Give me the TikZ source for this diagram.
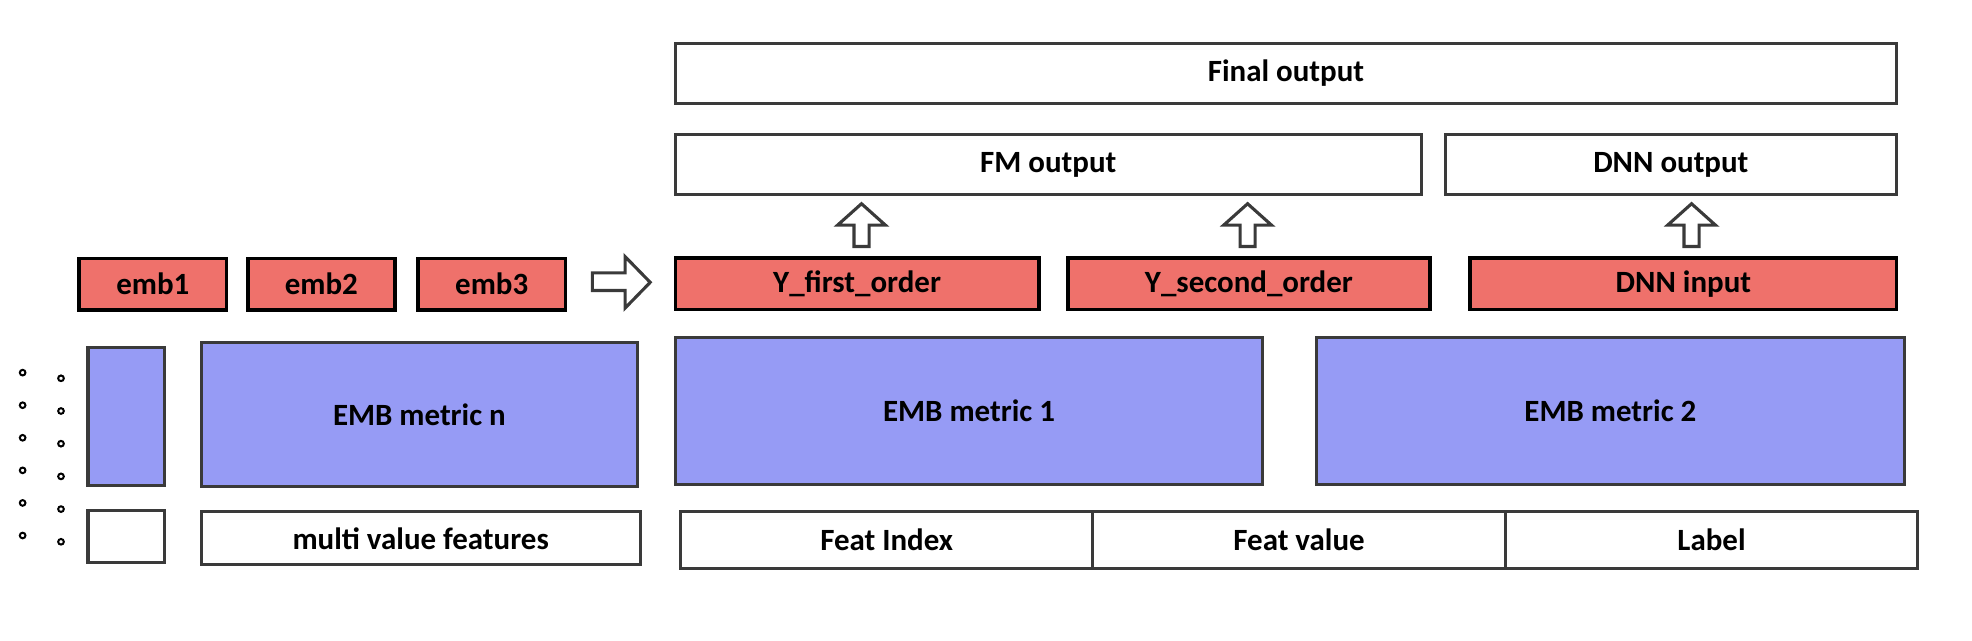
\documentclass[tikz,border=0pt]{standalone}
\usepackage{fontspec}
\setmainfont{Carlito}
\usetikzlibrary{positioning}

\definecolor{embred}{RGB}{239,113,107}
\definecolor{embblue}{RGB}{150,155,245}
\definecolor{edgegray}{RGB}{58,58,58}

\tikzset{
  box/.style={draw=edgegray, line width=1.4pt, fill=white, inner sep=0pt,
    font=\fontsize{14}{16}\selectfont\bfseries},
  redbox/.style={box, draw=black, line width=1.6pt, fill=embred, minimum height=0.82cm},
  bluebox/.style={box, fill=embblue},
  cellbox/.style={box, outer sep=0pt, minimum width=6.56cm, minimum height=0.9cm},
  hollow/.style={draw=edgegray, line width=1.4pt, fill=white, line join=miter},
  dotring/.style={draw=black, line width=0.9pt, fill=white}
}

\begin{document}
\begin{tikzpicture}[x=0.02cm, y=-0.02cm]
    \useasboundingbox (0,0) rectangle (1568,509);

% outputs
    \node[box, minimum width=19.42cm, minimum height=0.96cm] (final) at (1022.5,58.5) {Final output};
    \node[box, minimum width=11.86cm, minimum height=0.96cm] (fmout) at (833.5,131) {FM output};
    \node[box, minimum width=7.18cm, minimum height=0.96cm] (dnnout) at (1328.5,131) {DNN output};

% embedding vectors
      \foreach \x/\name in {121.5/emb1, 255.5/emb2, 391/emb3}
      {
        \node[redbox, minimum width=2.34cm] (\name) at (\x,226) {\name};
      };
    \node[redbox, minimum width=5.78cm] (yfirst) at (681.5,225.5) {Y\_first\_order};
    \node[redbox, minimum width=5.76cm] (ysecond) at (993,225.5) {Y\_second\_order};
    \node[redbox, minimum width=6.78cm] (dnnin) at (1338.5,225.5) {DNN input};

% embedding matrices
    \node[bluebox, minimum width=1.22cm, minimum height=2.2cm] (embsmall) at (100.5,331) {};
    \node[bluebox, minimum width=6.94cm, minimum height=2.3cm] (embn) at (333.5,329.5) {EMB metric n};
    \node[bluebox, minimum width=9.34cm, minimum height=2.34cm] (embone) at (770.5,326.5) {EMB metric 1};
    \node[bluebox, minimum width=9.34cm, minimum height=2.34cm] (embtwo) at (1280.5,326.5) {EMB metric 2};

% input features
    \node[box, minimum width=1.22cm, minimum height=0.82cm] (featsmall) at (100.5,426.5) {};
    \node[box, minimum width=6.98cm, minimum height=0.84cm] (multi) at (334.5,428) {multi value features};
    \node[cellbox] (featindex) at (705,429.5) {Feat Index};
    \node[cellbox, right=0pt of featindex] (featvalue) {Feat value};
    \node[cellbox, right=0pt of featvalue] (label) {Label};

% block arrows
      \foreach \x in {685,992,1345}
      {
        \draw[hollow] (\x-6,196) -- (\x-6,179) -- (\x-19,179) -- (\x,162)
          -- (\x+19,179) -- (\x+6,179) -- (\x+6,196) -- cycle;
      };
    \draw[hollow] (471,217) -- (497,217) -- (497,204) -- (517,224.5)
      -- (497,245) -- (497,231) -- (471,231) -- cycle;

% dots
      \foreach \i in {0,...,5}
      {
        \draw[dotring] (18,296.3+25.9*\i) circle (0.045cm);
        \draw[dotring] (48.5,300.8+26*\i) circle (0.045cm);
      };

\end{tikzpicture}
\end{document}
